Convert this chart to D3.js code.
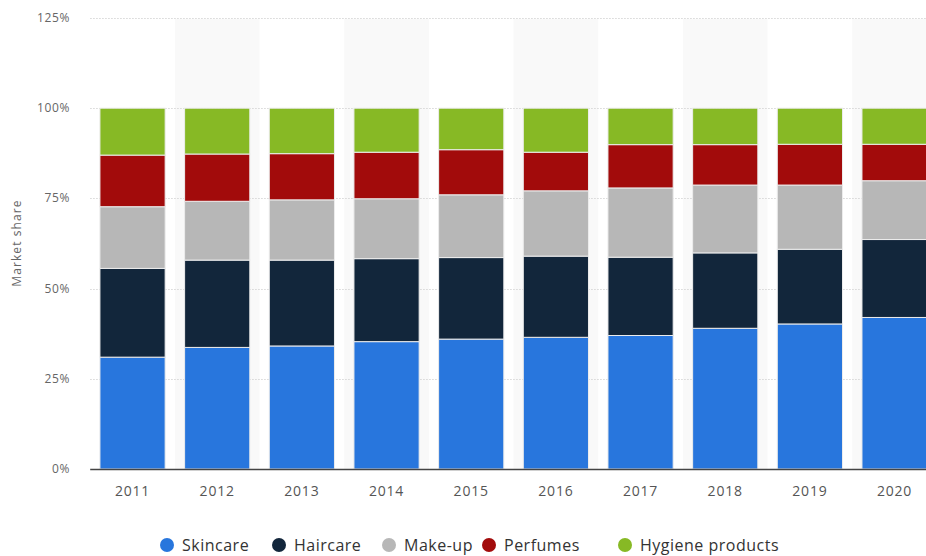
<!DOCTYPE html>
<html>
<head>
<meta charset="utf-8">
<script src="https://cdn.jsdelivr.net/npm/d3@7"></script>
<style>
  html, body { margin: 0; padding: 0; background: #fff; }
  svg { display: block; font-family: "Open Sans", "Noto Sans", sans-serif; }
</style>
</head>
<body>
<svg id="chart" width="926" height="556"></svg>
<script>
const years = ["2011","2012","2013","2014","2015","2016","2017","2018","2019","2020"];
const seriesNames = ["Skincare","Haircare","Make-up","Perfumes","Hygiene products"];
const skincare = [31.0, 33.7, 34.1, 35.3, 36.0, 36.5, 37.0, 39.0, 40.2, 42.0];
const haircare = [24.6, 24.2, 23.8, 23.0, 22.6, 22.5, 21.7, 20.9, 20.7, 21.6];
const makeup   = [17.1, 16.3, 16.7, 16.6, 17.4, 18.1, 19.2, 18.8, 17.8, 16.3];
const perfumes = [14.3, 13.1, 12.8, 12.9, 12.5, 10.7, 12.0, 11.2, 11.3, 10.1];
const hygiene  = [13.0, 12.7, 12.6, 12.2, 11.5, 12.2, 10.1, 10.1, 10.0, 10.0];
const yTicks = [0, 25, 50, 75, 100, 125];
const colors = ["#2876dd", "#12263b", "#b7b7b7", "#a20b0b", "#87b925"];

const seriesValues = [skincare, haircare, makeup, perfumes, hygiene];
const keys = ["s0","s1","s2","s3","s4"];
const table = years.map((y, i) => {
  const row = { year: y };
  keys.forEach((k, j) => row[k] = seriesValues[j][i]);
  return row;
});

const svg = d3.select("#chart");
const margin = { left: 90.2, top: 18, bottom: 469 };
const step = 84.67;
const x = d3.scaleBand().domain(years)
  .range([margin.left, margin.left + step * years.length])
  .paddingInner(0.23).paddingOuter(0.115);
const y = d3.scaleLinear().domain([0, 125]).range([469, 18]);

// alternating shaded columns
const band = d3.scaleBand().domain(years).range([margin.left, margin.left + step * years.length]);
svg.append("g").selectAll("rect").data(years.filter((d, i) => i % 2 === 1)).join("rect")
  .attr("x", d => band(d)).attr("width", band.bandwidth())
  .attr("y", y(125) + 1).attr("height", y(0) - y(125) - 1)
  .attr("fill", "#f9f9f9");

// gridlines
svg.append("g").selectAll("line").data(yTicks.filter(t => t > 0)).join("line")
  .attr("x1", margin.left).attr("x2", 926)
  .attr("y1", d => Math.round(y(d)) + 0.5).attr("y2", d => Math.round(y(d)) + 0.5)
  .attr("stroke", "#d6d6d6").attr("stroke-width", 1).attr("stroke-dasharray", "1.5,1.5");

// stacked bars
const stack = d3.stack().keys(keys);
const stacked = stack(table);
svg.append("g").selectAll("g").data(stacked).join("g")
  .attr("fill", (d, i) => colors[i])
  .selectAll("rect").data(d => d).join("rect")
  .attr("x", d => x(d.data.year))
  .attr("width", x.bandwidth())
  .attr("y", d => y(d[1]))
  .attr("height", d => y(d[0]) - y(d[1]))
  .attr("stroke", "#ececec").attr("stroke-width", 1);

// x axis line
svg.append("line").attr("x1", margin.left).attr("x2", 926)
  .attr("y1", 469.5).attr("y2", 469.5).attr("stroke", "#444").attr("stroke-width", 1.5);

// y tick labels
svg.append("g").selectAll("text").data(yTicks).join("text")
  .attr("x", 70).attr("y", d => y(d) + 4)
  .attr("text-anchor", "end").attr("font-size", 12).attr("letter-spacing", 0.6).attr("fill", "#666")
  .text(d => d + "%");

// x tick labels
svg.append("g").selectAll("text").data(years).join("text")
  .attr("x", d => x(d) + x.bandwidth() / 2).attr("y", 496)
  .attr("text-anchor", "middle").attr("font-size", 14).attr("letter-spacing", 0.8).attr("fill", "#555")
  .text(d => d);

// y axis title
svg.append("text").attr("transform", "translate(21,243) rotate(-90)")
  .attr("text-anchor", "middle").attr("font-size", 12).attr("letter-spacing", 1.1).attr("fill", "#666")
  .text("Market share");

// legend
const legendX = [167, 279, 389, 489, 625];
const lg = svg.append("g").selectAll("g").data(seriesNames).join("g")
  .attr("transform", (d, i) => `translate(${legendX[i]},545)`);
lg.append("circle").attr("r", 7).attr("fill", (d, i) => colors[i]);
lg.append("text").attr("x", 15).attr("y", 5.5).attr("font-size", 16).attr("letter-spacing", 0.5).attr("fill", "#333")
  .text(d => d);
</script>
</body>
</html>
